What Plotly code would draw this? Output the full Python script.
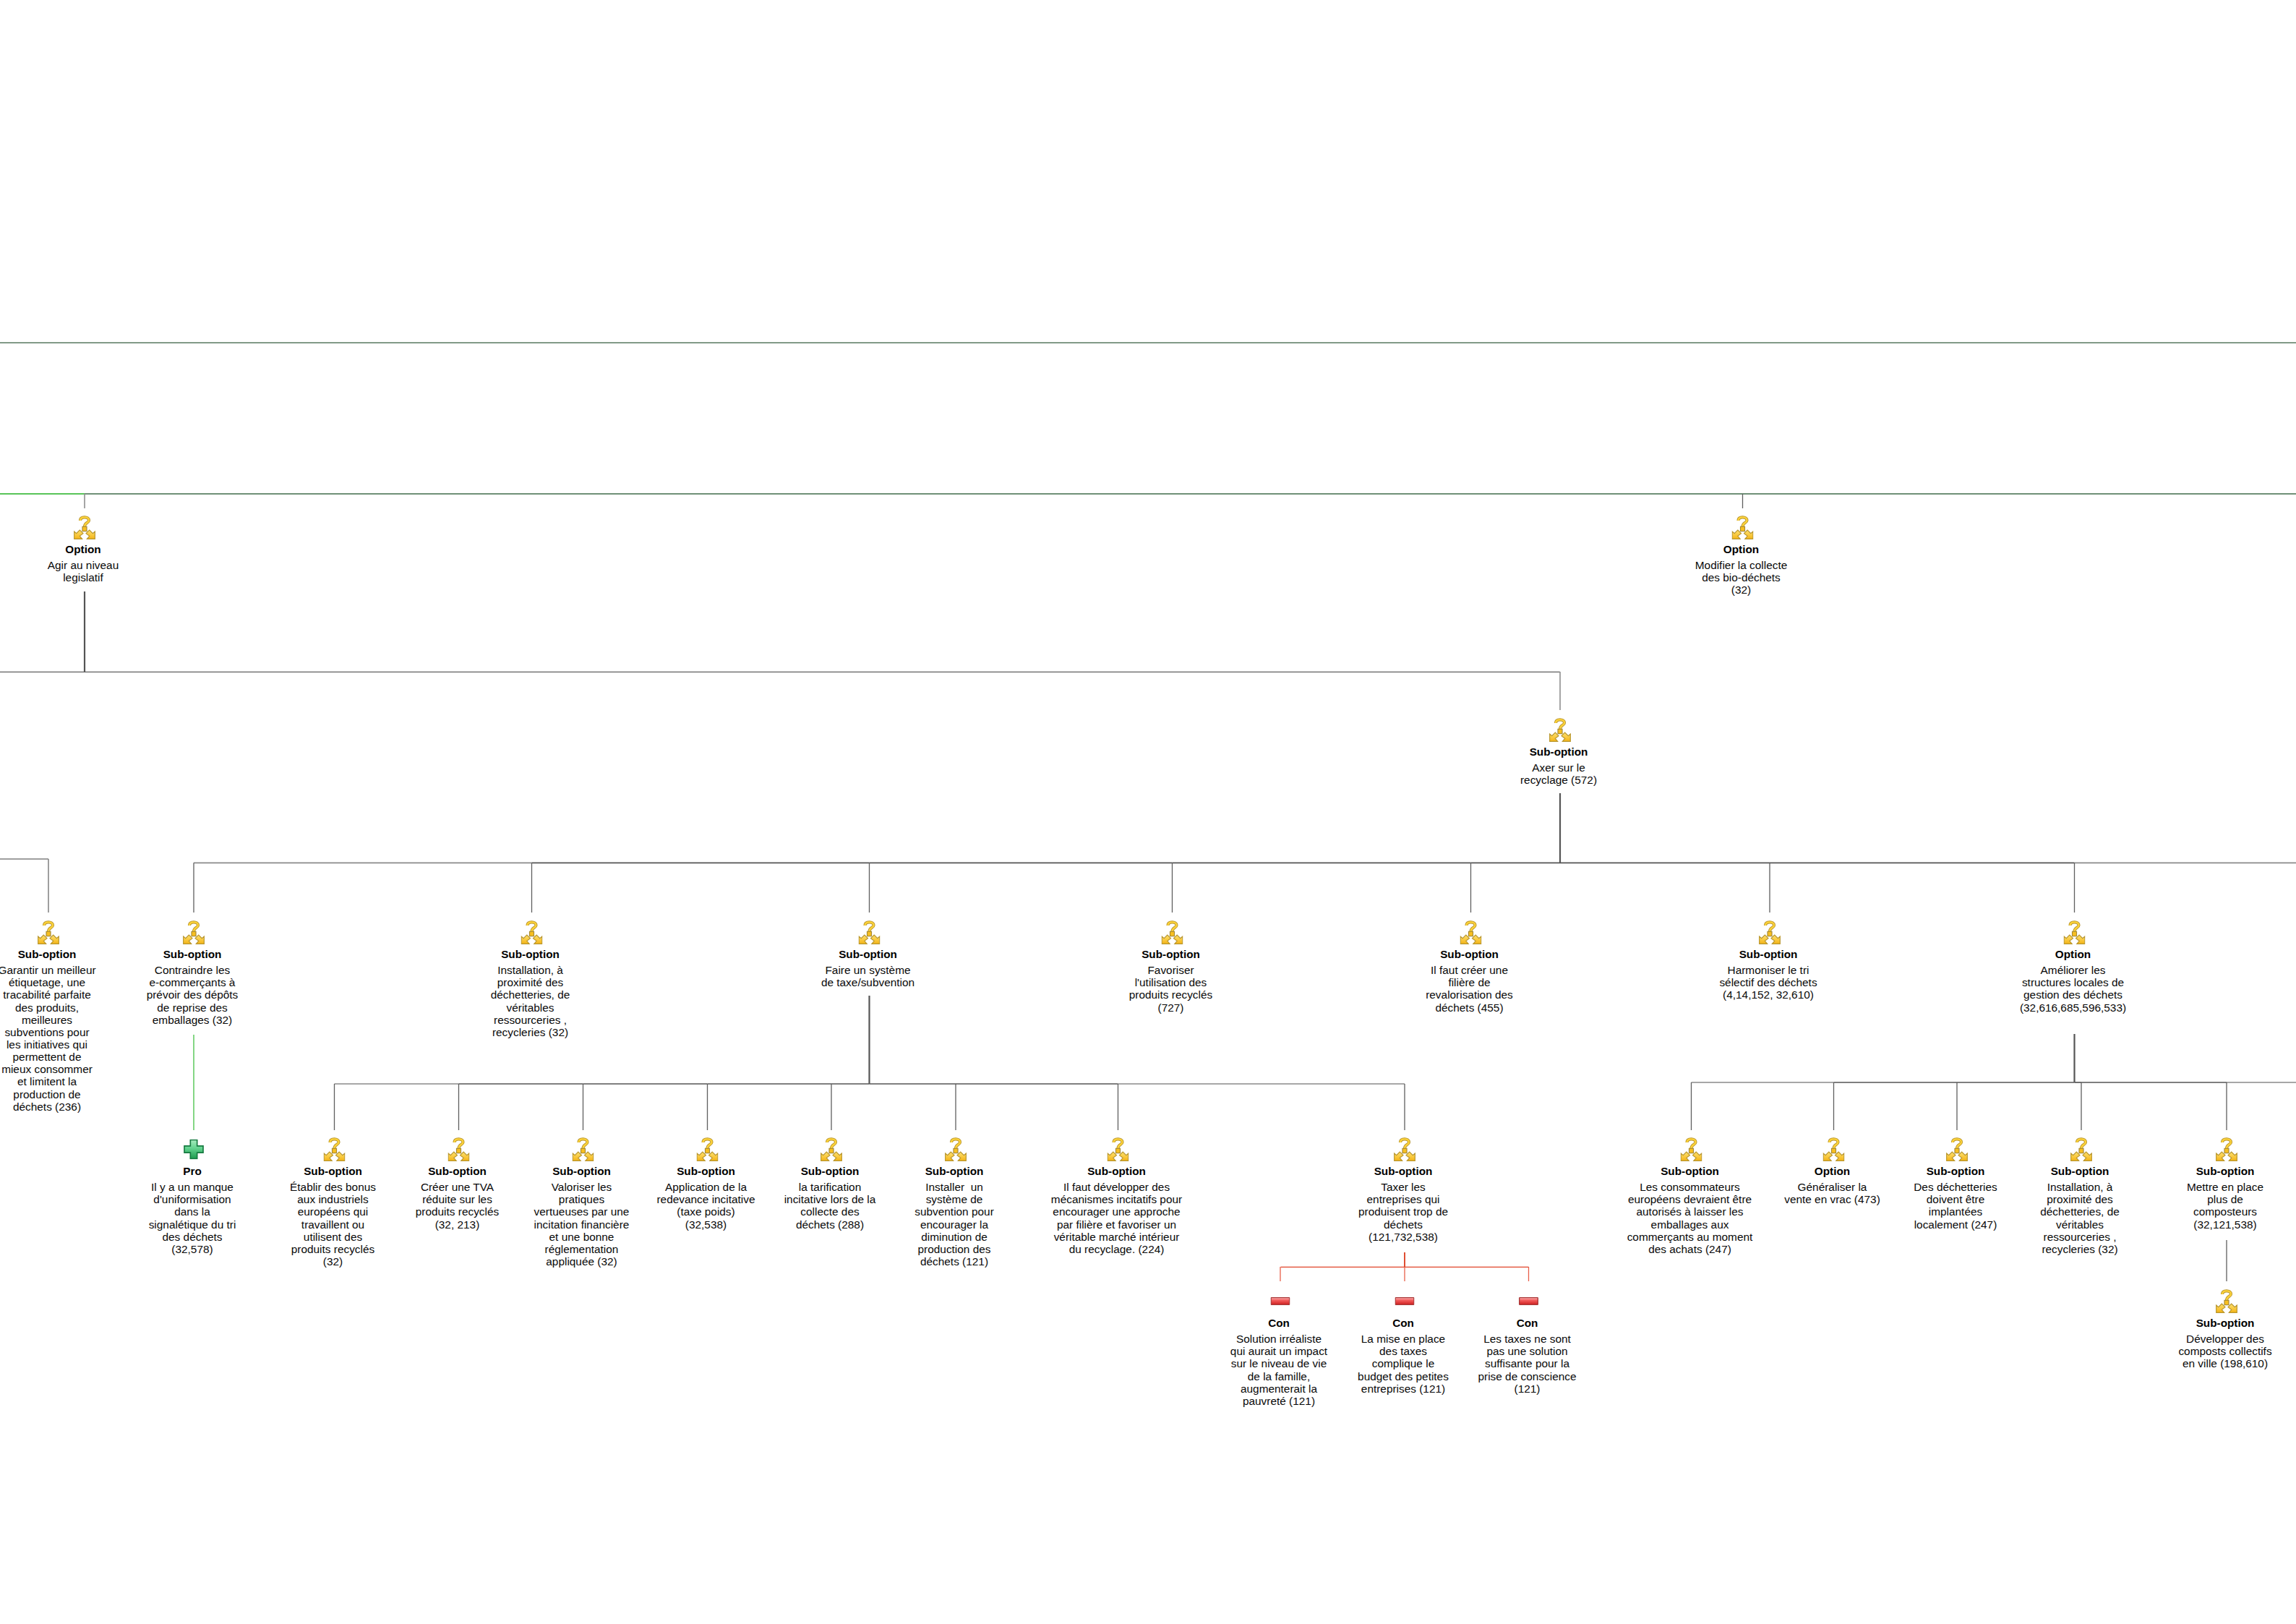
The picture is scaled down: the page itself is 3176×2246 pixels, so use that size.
import base64
import plotly.graph_objects as go

# ---- tree content ----
node_kind = ["Option","Option","Sub-option","Sub-option","Sub-option","Sub-option","Sub-option","Sub-option","Sub-option","Sub-option","Option",
             "Pro","Sub-option","Sub-option","Sub-option","Sub-option","Sub-option","Sub-option","Sub-option","Sub-option",
             "Sub-option","Option","Sub-option","Sub-option","Sub-option","Sub-option","Con","Con","Con"]
node_text = [
    ["Agir au niveau","legislatif"],
    ["Modifier la collecte","des bio-déchets","(32)"],
    ["Axer sur le","recyclage (572)"],
    ["Garantir un meilleur","étiquetage, une","tracabilité parfaite","des produits,","meilleures","subventions pour","les initiatives qui","permettent de","mieux consommer","et limitent la","production de","déchets (236)"],
    ["Contraindre les","e-commerçants à","prévoir des dépôts","de reprise des","emballages (32)"],
    ["Installation, à","proximité des","déchetteries, de","véritables","ressourceries ,","recycleries (32)"],
    ["Faire un système","de taxe/subvention"],
    ["Favoriser","l'utilisation des","produits recyclés","(727)"],
    ["Il faut créer une","filière de","revalorisation des","déchets (455)"],
    ["Harmoniser le tri","sélectif des déchets","(4,14,152, 32,610)"],
    ["Améliorer les","structures locales de","gestion des déchets","(32,616,685,596,533)"],
    ["Il y a un manque","d'uniformisation","dans la","signalétique du tri","des déchets","(32,578)"],
    ["Établir des bonus","aux industriels","européens qui","travaillent ou","utilisent des","produits recyclés","(32)"],
    ["Créer une TVA","réduite sur les","produits recyclés","(32, 213)"],
    ["Valoriser les","pratiques","vertueuses par une","incitation financière","et une bonne","réglementation","appliquée (32)"],
    ["Application de la","redevance incitative","(taxe poids)","(32,538)"],
    ["la tarification","incitative lors de la","collecte des","déchets (288)"],
    ["Installer\u00a0 un","système de","subvention pour","encourager la","diminution de","production des","déchets (121)"],
    ["Il faut développer des","mécanismes incitatifs pour","encourager une approche","par filière et favoriser un","véritable marché intérieur","du recyclage. (224)"],
    ["Taxer les","entreprises qui","produisent trop de","déchets","(121,732,538)"],
    ["Les consommateurs","européens devraient être","autorisés à laisser les","emballages aux","commerçants au moment","des achats (247)"],
    ["Généraliser la","vente en vrac (473)"],
    ["Des déchetteries","doivent être","implantées","localement (247)"],
    ["Installation, à","proximité des","déchetteries, de","véritables","ressourceries ,","recycleries (32)"],
    ["Mettre en place","plus de","composteurs","(32,121,538)"],
    ["Développer des","composts collectifs","en ville (198,610)"],
    ["Solution irréaliste","qui aurait un impact","sur le niveau de vie","de la famille,","augmenterait la","pauvreté (121)"],
    ["La mise en place","des taxes","complique le","budget des petites","entreprises (121)"],
    ["Les taxes ne sont","pas une solution","suffisante pour la","prise de conscience","(121)"],
]
# tree layout (x, top of each node)
node_x = [117,2410.5,2158,67,268,735.5,1202.5,1621.5,2034.5,2448,2869.5,
          268,462.5,634.5,806.5,978.5,1150,1322,1546.5,1943,
          2339.5,2536.5,2707,2879,3080,3080,1771,1943,2114.5]
node_top = [713,713,993,1273,1273,1273,1273,1273,1273,1273,1273,
            1573,1573,1573,1573,1573,1573,1573,1573,1573,
            1573,1573,1573,1573,1573,1783,1783,1783,1783]

# connector groups: parent x, parent bottom, bar y, child top, child xs
grp_parent = [2158,1202.5,2869.5]
grp_bottom = [1097,1377,1430]
grp_bar    = [1193.3,1499,1497]
grp_child_top = [1262,1563,1563]
grp_children = [
    [268,735.5,1202.5,1621.5,2034.5,2448,2869.5,3300],
    [462.5,634.5,806.5,978.5,1150,1322,1546.5,1943],
    [2339.5,2536.5,2707,2879,3080,3300],
]
# single connectors: x0,y0,x1,y1,colour,width
single_lines = [
    (0,474,3176,474,"#57785f",1.4),
    (0,683,117,683,"#22b022",1.6),
    (117,683,3176,683,"#3f6b4a",1.6),
    (117,683,117,703,"#8f8f8f",1.6),
    (2410.5,683,2410.5,703,"#5f5f5f",1.3),
    (117,818,117,929,"#555555",2.2),
    (0,929.4,2158,929.4,"#5f5f5f",1.3),
    (2158,929,2158,982,"#8f8f8f",1.6),
    (0,1188,67,1188,"#7f7f7f",1.5),
    (67,1188,67,1262,"#7f7f7f",1.5),
    (268,1431,268,1563,"#66cc66",1.6),
    (3080,1715,3080,1772,"#5f5f5f",1.3),
    (1943,1732,1943,1752,"#dd3a1c",1.8),
    (1771.5,1752.4,2114.5,1752.4,"#e0442a",1.3),
    (1771,1752,1771,1772,"#e8604a",1.3),
    (1943,1752,1943,1772,"#e8604a",1.3),
    (2114.5,1752,2114.5,1772,"#e8604a",1.3),
]

LIGHT, DARK, CHILD = "#8a8a8a", "#555555", "#5f5f5f"
fig = go.Figure()

def add_line(x0, y0, x1, y1, color, width):
    fig.add_trace(go.Scatter(x=[x0, x1], y=[y0, y1], mode="lines", hoverinfo="skip", showlegend=False,
                             line=dict(color=color, width=width)))

for px, pb, by, ct, kids in zip(grp_parent, grp_bottom, grp_bar, grp_child_top, grp_children):
    add_line(px, pb, px, by, "#555555", 2.2)
    ks = sorted(kids)
    stops = sorted(set(ks + [px]))
    for a, b in zip(stops[:-1], stops[1:]):
        mid = (a + b) / 2
        n = sum(1 for k in ks if (k <= a and mid < px) or (k >= b and mid > px))
        add_line(a, by, b, by, LIGHT if n <= 1 else DARK, 1.7)
    for k in ks:
        add_line(k, by, k, ct, CHILD, 1.3)

for s in single_lines:
    add_line(*s)

# ---- text ----
TITLE_DY, FIRST_DY, PITCH, TEXT_DX = 48.3, 70.3, 17.15, -2
tx, ty, tt, dx, dy, dt = [], [], [], [], [], []
for kind, lines, x, top in zip(node_kind, node_text, node_x, node_top):
    tx.append(x + TEXT_DX); ty.append(top + TITLE_DY); tt.append(kind)
    for i, line in enumerate(lines):
        dx.append(x + TEXT_DX); dy.append(top + FIRST_DY + i * PITCH); dt.append(line)

fig.add_trace(go.Scatter(x=tx, y=ty, text=tt, mode="text", textposition="middle center", hoverinfo="skip",
                         showlegend=False, textfont=dict(family="Liberation Sans", size=15.3, color="#000000", weight=700)))
fig.add_trace(go.Scatter(x=dx, y=dy, text=dt, mode="text", textposition="middle center", hoverinfo="skip",
                         showlegend=False, textfont=dict(family="Liberation Sans", size=15.4, color="#0a0a0a")))

# ---- icons ----
def uri(svg):
    return "data:image/svg+xml;base64," + base64.b64encode(svg.encode()).decode()

SVG_HEAD = '<svg xmlns="http://www.w3.org/2000/svg" width="{w}" height="{h}" viewBox="0 0 {w} {h}">'
QM = "M27,21 C27,11 35,7 45,7 C55,7 63,12 63,20 C63,30 45,29 45,46"
option_svg = SVG_HEAD.format(w=90, h=99) + f'''
<defs><linearGradient id="g" x1="0" y1="0" x2="0" y2="1"><stop offset="0" stop-color="#fde272"/><stop offset="1" stop-color="#f5b416"/></linearGradient></defs>
<path d="{QM}" fill="none" stroke="#b8962f" stroke-width="12.5"/>
<path d="{QM}" fill="none" stroke="#fcd23a" stroke-width="7"/>
<rect x="36" y="46" width="18" height="19" fill="#f7bf20" stroke="#a88a30" stroke-width="3.5"/>
<g fill="url(#g)" stroke="#b8962f" stroke-width="3.5" stroke-linejoin="miter">
<path d="M2,97 L2,66 L11,74 L25,60 L39,74 L25,85 L35,97 Z"/>
<path d="M88,97 L88,66 L79,74 L65,60 L51,74 L65,85 L55,97 Z"/>
</g></svg>'''
pro_svg = SVG_HEAD.format(w=84, h=84) + '''
<defs><linearGradient id="g" x1="0" y1="0" x2="0" y2="1"><stop offset="0" stop-color="#a5ecbe"/><stop offset="0.45" stop-color="#62d28e"/><stop offset="1" stop-color="#1c9a4e"/></linearGradient></defs>
<path d="M28,3 H56 V28 H81 V56 H56 V81 H28 V56 H3 V28 H28 Z" fill="url(#g)" stroke="#167a40" stroke-width="5"/></svg>'''
con_svg = SVG_HEAD.format(w=81, h=33) + '''
<defs><linearGradient id="g" x1="0" y1="0" x2="0" y2="1"><stop offset="0" stop-color="#ffb3b3"/><stop offset="0.4" stop-color="#f25a5a"/><stop offset="1" stop-color="#cf2020"/></linearGradient></defs>
<rect x="2" y="2" width="77" height="29" rx="2" fill="url(#g)" stroke="#a83a3a" stroke-width="4"/></svg>'''
ICON = {"Option": (option_svg, 30, 33), "Sub-option": (option_svg, 30, 33),
        "Pro": (pro_svg, 28, 28), "Con": (con_svg, 27, 11)}

images = []
for kind, x, top in zip(node_kind, node_x, node_top):
    svg, w, h = ICON[kind]
    images.append(dict(source=uri(svg), xref="x", yref="y", x=x - w / 2, y=top + 16.5 - h / 2,
                       sizex=w, sizey=h, sizing="stretch", xanchor="left", yanchor="top", layer="above"))

fig.update_layout(
    width=3176, height=2246, margin=dict(l=0, r=0, t=0, b=0),
    paper_bgcolor="white", plot_bgcolor="white", showlegend=False, images=images,
    xaxis=dict(range=[0, 3176], visible=False, fixedrange=True),
    yaxis=dict(range=[2246, 0], visible=False, fixedrange=True),
)
fig.write_html("out.html", config={"displayModeBar": False},
               post_script="document.body.style.margin='0';document.documentElement.style.overflow='hidden';")
